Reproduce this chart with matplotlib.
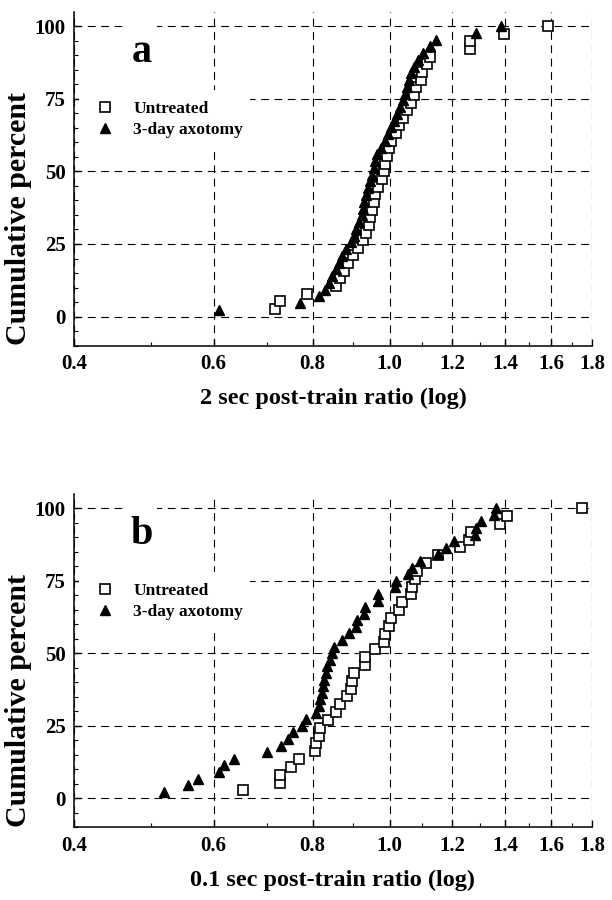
import numpy as np
import matplotlib
matplotlib.use("Agg")
import matplotlib.pyplot as plt
from matplotlib.ticker import FixedLocator, FixedFormatter, NullFormatter
from matplotlib.patches import Rectangle

plt.rcParams['font.family'] = ['Liberation Serif', 'DejaVu Serif']
plt.rcParams['font.weight'] = 'bold'

# panel a: 2 sec post-train ratio (sorted)
a_untreated = [0.716, 0.727, 0.787, 0.855, 0.865, 0.876, 0.886, 0.898, 0.912, 0.925,
               0.933, 0.941, 0.946, 0.951, 0.955, 0.959, 0.968, 0.978, 0.984, 0.988,
               0.992, 0.998, 1.005, 1.018, 1.028, 1.040, 1.052, 1.065, 1.072, 1.080,
               1.095, 1.100, 1.115, 1.125, 1.263, 1.263, 1.394, 1.585]
a_axotomy = [0.610, 0.772, 0.815, 0.828, 0.838, 0.845, 0.855, 0.864, 0.872, 0.882,
             0.893, 0.902, 0.908, 0.915, 0.922, 0.926, 0.929, 0.933, 0.938, 0.944,
             0.950, 0.955, 0.958, 0.963, 0.975, 0.987, 0.995, 1.005, 1.012, 1.022,
             1.032, 1.040, 1.045, 1.053, 1.058, 1.063, 1.072, 1.085, 1.103, 1.126,
             1.146, 1.287, 1.384]

# panel b: 0.1 sec post-train ratio
b_untreated = [0.653, 0.728, 0.728, 0.752, 0.768, 0.806, 0.807, 0.814, 0.816, 0.837,
               0.856, 0.867, 0.883, 0.895, 0.897, 0.901, 0.931, 0.931, 0.960, 0.985,
               0.988, 0.998, 1.005, 1.029, 1.036, 1.063, 1.068, 1.077, 1.083, 1.111,
               1.151, 1.227, 1.261, 1.265, 1.380, 1.408, 1.751]
b_axotomy = [0.519, 0.557, 0.574, 0.610, 0.618, 0.636, 0.701, 0.730, 0.745, 0.756,
             0.776, 0.785, 0.808, 0.814, 0.818, 0.821, 0.825, 0.827, 0.831, 0.835,
             0.841, 0.846, 0.850, 0.872, 0.888, 0.906, 0.911, 0.929, 0.931, 0.968,
             0.968, 1.015, 1.019, 1.056, 1.066, 1.094, 1.151, 1.178, 1.205, 1.281,
             1.287, 1.305, 1.354, 1.362]

x_ticks = [0.4, 0.6, 0.8, 1.0, 1.2, 1.4, 1.6, 1.8]
x_tick_labels = ["0.4", "0.6", "0.8", "1.0", "1.2", "1.4", "1.6", "1.8"]
x_minor = [0.5, 0.7, 0.9, 1.1, 1.3, 1.5, 1.7]
y_ticks = [0, 25, 50, 75, 100]
series_labels = ["Untreated", "3-day axotomy"]


def cum_pct(vals):
    n = len(vals)
    return np.arange(1, n + 1) / n * 100.0


def draw_panel(ax, untreated, axotomy, letter, xlabel):
    ax.set_xscale('log')
    ax.set_xlim(0.4, 1.8)
    ax.set_ylim(-10, 105)

    ax.xaxis.set_major_locator(FixedLocator(x_ticks))
    ax.xaxis.set_major_formatter(FixedFormatter(x_tick_labels))
    ax.xaxis.set_minor_locator(FixedLocator(x_minor))
    ax.xaxis.set_minor_formatter(NullFormatter())
    ax.set_yticks(y_ticks)
    ax.set_yticks(np.arange(-10, 105, 5), minor=True)

    for s in ['top', 'right']:
        ax.spines[s].set_visible(False)
    for s in ['left', 'bottom']:
        ax.spines[s].set_linewidth(1.1)

    ax.tick_params(which='major', direction='in', length=5, width=1,
                   labelsize=15, pad=6)
    ax.tick_params(which='minor', direction='in', length=3, width=0.8)
    ax.tick_params(axis='x', which='major', pad=6)

    ax.grid(True, which='major', color='black', linewidth=0.8,
            linestyle=(0, (7, 5)))

    # white patches where the original left gaps in the grid
    ax.add_patch(Rectangle((0.10, 0.935), 0.06, 0.045, transform=ax.transAxes,
                           facecolor='white', edgecolor='none', zorder=2))
    ax.add_patch(Rectangle((0.01, 0.595), 0.33, 0.17, transform=ax.transAxes,
                           facecolor='white', edgecolor='none', zorder=2))

    sq, = ax.plot(untreated, cum_pct(untreated), linestyle='none', marker='s',
                  markersize=6.5, markerfacecolor='white', markeredgecolor='black',
                  markeredgewidth=1.2, zorder=3, label=series_labels[0])
    tr, = ax.plot(axotomy, cum_pct(axotomy), linestyle='none', marker='^',
                  markersize=7, color='black', zorder=4, label=series_labels[1])

    ax.legend(handles=[sq, tr], loc='upper left', bbox_to_anchor=(0.044, 0.732),
              frameon=False, borderpad=0, borderaxespad=0, handlelength=1.0,
              handletextpad=1.1, labelspacing=0.28,
              prop={'family': 'Liberation Serif', 'weight': 'bold', 'size': 12.5})

    ax.text(0.487, 91, letter, fontsize=29, fontweight='bold', ha='center',
            va='center', zorder=5)

    ax.set_xlabel(xlabel, fontsize=17.5, fontweight='bold', labelpad=10)
    ax.set_ylabel("Cumulative percent", fontsize=21.5, fontweight='bold',
                  labelpad=2, y=0.38)


fig = plt.figure(figsize=(6.12, 9), dpi=100)
ax_a = fig.add_axes([0.1209, 0.6159, 0.8464, 0.3713])
ax_b = fig.add_axes([0.1209, 0.0808, 0.8464, 0.3706])

draw_panel(ax_a, a_untreated, a_axotomy, "a", "2 sec post-train ratio (log)")
draw_panel(ax_b, b_untreated, b_axotomy, "b", "0.1 sec post-train ratio (log)")

fig.savefig("out.png", dpi=100, facecolor='white')
